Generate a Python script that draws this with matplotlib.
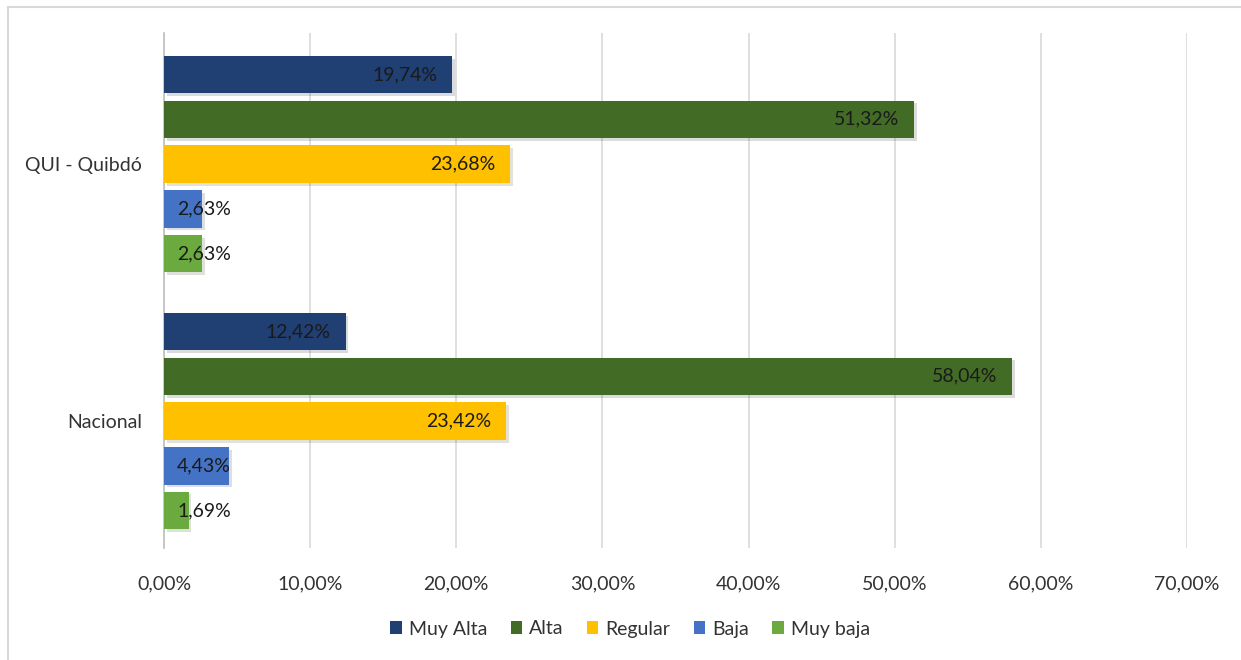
import matplotlib.pyplot as plt
import matplotlib.patheffects as pe
from matplotlib.patches import Rectangle

# Datos del gráfico
categorias = ['Nacional', 'QUI - Quibdó']
series = ['Muy Alta', 'Alta', 'Regular', 'Baja', 'Muy baja']
nacional = [12.42, 58.04, 23.42, 4.43, 1.69]
quibdo = [19.74, 51.32, 23.68, 2.63, 2.63]
colores = ['#203f73', '#426b26', '#ffc000', '#4472c4', '#6aaa3f']

plt.rcParams['font.family'] = ['Lato', 'DejaVu Sans']
fs = 14

fig = plt.figure(figsize=(12.41, 6.60), dpi=100)
ax = fig.add_axes([164 / 1241, 1 - 548 / 660, (1187 - 164) / 1241, (548 - 33) / 660])

# Borde exterior del gráfico
fig.patches.append(Rectangle((8 / 1241, -0.1), 1.2, 1 - 7 / 660 + 0.1, transform=fig.transFigure,
                             fill=False, edgecolor='#d9d9d9', linewidth=1.5))

paso = 0.174
alto = 0.146
sombra = [pe.SimplePatchShadow(offset=(2, -2), alpha=0.15), pe.Normal()]

for i, serie in enumerate(series):
    valores = [nacional[i], quibdo[i]]
    posiciones = [c + (2 - i) * paso for c in range(len(categorias))]
    barras = ax.barh(posiciones, valores, height=alto, color=colores[i], label=serie, zorder=3)
    for b in barras:
        b.set_path_effects(sombra)
    for y, v in zip(posiciones, valores):
        texto = f"{v:.2f}%".replace('.', ',')
        if v < 6:
            ax.text(0.9, y, texto, ha='left', va='center', fontsize=fs, color='#1a1a1a', zorder=4)
        else:
            ax.text(v - 1.0, y, texto, ha='right', va='center', fontsize=fs, color='#1a1a1a', zorder=4)

ax.set_xlim(0, 70)
ax.set_ylim(-0.494, 1.51)
ax.set_xticks(range(0, 71, 10))
ax.set_xticklabels([f"{t},00%" for t in range(0, 71, 10)])
ax.set_yticks(range(len(categorias)))
ax.set_yticklabels(categorias)
ax.tick_params(axis='both', length=0, labelsize=fs, colors='#333333')
ax.tick_params(axis='x', pad=20)
ax.tick_params(axis='y', pad=16)
ax.grid(axis='x', color='#d9d9d9', linewidth=1.2, zorder=0)
for lado in ['top', 'right', 'bottom']:
    ax.spines[lado].set_visible(False)
ax.spines['left'].set_color('#bfbfbf')
ax.spines['left'].set_linewidth(1.2)

leg = ax.legend(loc='center', bbox_to_anchor=(630 / 1241, 1 - 629 / 660), bbox_transform=fig.transFigure,
                ncol=5, frameon=False, fontsize=fs, handlelength=0.6, handleheight=0.6,
                handletextpad=0.35, columnspacing=1.2, labelcolor='#333333')
for h in leg.legend_handles:
    h.set_path_effects([])

plt.savefig('out.png', dpi=100)
plt.close()
